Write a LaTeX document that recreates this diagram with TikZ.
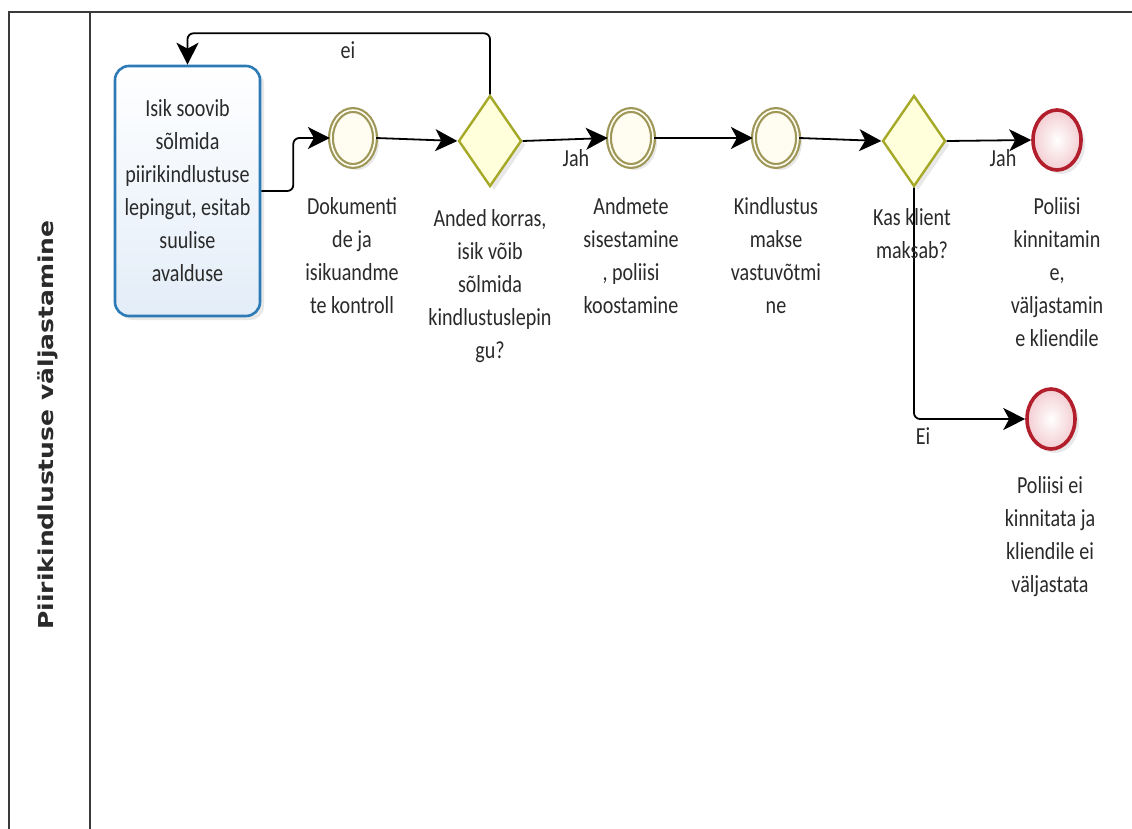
\documentclass[tikz,border=0pt]{standalone}
\usepackage{fontspec}
\usetikzlibrary{shapes.geometric,arrows.meta,shadows,calc}

\newfontfamily\bpfont[FakeStretch=0.82]{Carlito}
\newfontfamily\lanefont[FakeStretch=1.22]{DejaVu Sans}

\definecolor{lanec}{HTML}{3A3A3A}
\definecolor{taskc}{HTML}{2C7BB6}
\definecolor{taskf}{HTML}{E3EDF8}
\definecolor{evc}{HTML}{9E9758}
\definecolor{evf}{HTML}{FFFDF2}
\definecolor{gwc}{HTML}{A6A828}
\definecolor{gwf}{HTML}{FFFFDC}
\definecolor{endc}{HTML}{B21E2B}
\definecolor{endf}{HTML}{F3CDD2}
\definecolor{txt}{HTML}{2A2A2A}

\tikzset{
  softshadow/.style={drop shadow={shadow xshift=4pt, shadow yshift=-4pt, opacity=0.18, fill=black!50}},
  lane/.style={draw=lanec, line width=1.6pt},
  bptext/.style={font=\bpfont\fontsize{24.5}{33}\selectfont, text=txt, align=center, inner sep=0pt},
  taskbox/.style={rectangle, rounded corners=14pt, draw=taskc, line width=2.6pt,
    top color=white, bottom color=taskf, minimum width=145pt, minimum height=250pt,
    bptext, softshadow},
  interm/.style={ellipse, draw=evc, double=evf, double distance=1.6pt, line width=2.2pt,
    fill=evf, minimum width=44pt, minimum height=56pt, inner sep=0pt, softshadow},
  gateway/.style={diamond, draw=gwc, line width=2.4pt, fill=gwf,
    minimum width=63pt, minimum height=91pt, inner sep=0pt, softshadow},
  endev/.style={ellipse, draw=endc, line width=3.6pt, inner color=white, outer color=endf,
    minimum width=48pt, minimum height=60pt, inner sep=0pt, softshadow},
  flow/.style={draw=black, line width=1.8pt, rounded corners=6pt,
    -{Stealth[length=22pt, width=22pt, inset=6pt]}},
  flowlbl/.style={bptext, anchor=north},
}

\begin{document}
\begin{tikzpicture}[x=1pt, y=-1pt]
\useasboundingbox (0,0) rectangle (1132,829);

% pool and lane frame
\draw[lane] (9,829) -- (9,12) -- (1132,12);
\draw[lane] (90,12) -- (90,829);
\node[rotate=90, font=\lanefont\bfseries\fontsize{20.5}{24}\selectfont, text=txt, inner sep=0pt]
  (lanetitle) at (48,425) {Piirikindlustuse väljastamine};

% flow elements
\node[taskbox] (task) at (187.5,191) {Isik soovib\\sõlmida\\piirikindlustuse\\lepingut, esitab\\suulise\\avalduse};
\node[interm] (ev1) at (353,138) {};
\node[gateway] (gw1) at (490,141) {};
\node[interm] (ev2) at (631,138) {};
\node[interm] (ev3) at (776,138) {};
\node[gateway] (gw2) at (914,141) {};
\node[endev] (end1) at (1057,140) {};
\node[endev] (end2) at (1051,419) {};

% element captions
\node[flowlbl] (t-ev1) at (352,197) {Dokumenti\\de ja\\isikuandme\\te kontroll};
\node[flowlbl] (t-gw1) at (490,209) {Anded korras,\\isik võib\\sõlmida\\kindlustuslepin\\gu?};
\node[flowlbl] (t-ev2) at (631,197) {Andmete\\sisestamine\\, poliisi\\koostamine};
\node[flowlbl] (t-ev3) at (776,197) {Kindlustus\\makse\\vastuvõtmi\\ne};
\node[flowlbl] (t-end1) at (1057,197) {Poliisi\\kinnitamin\\e,\\väljastamin\\e kliendile};
\node[flowlbl] (t-end2) at (1050,476) {Poliisi ei\\kinnitata ja\\kliendile ei\\väljastata};

% sequence flows
\draw[flow] (task.east) -- ++(32,0) |- (ev1.west);
\draw[flow] (ev1.east) -- (gw1.west);
\draw[flow] (gw1.east) -- (ev2.west);
\draw[flow] (ev2.east) -- (ev3.west);
\draw[flow] (ev3.east) -- (gw2.west);
\draw[flow] (gw2.east) -- (end1.west);
\draw[flow] (gw1.north) -- ++(0,-61) -| (task.north);
\draw[flow] (gw2.south) |- (end2.west);

\node[flowlbl] (t-gw2) at (912,208) {Kas klient\\maksab?};

% flow labels
\node[bptext] (l-ei) at (348,50) {ei};
\node[bptext] (l-jah1) at (576,158) {Jah};
\node[bptext] (l-jah2) at (1003,158) {Jah};
\node[bptext] (l-Ei) at (923,436) {Ei};
\end{tikzpicture}
\end{document}
